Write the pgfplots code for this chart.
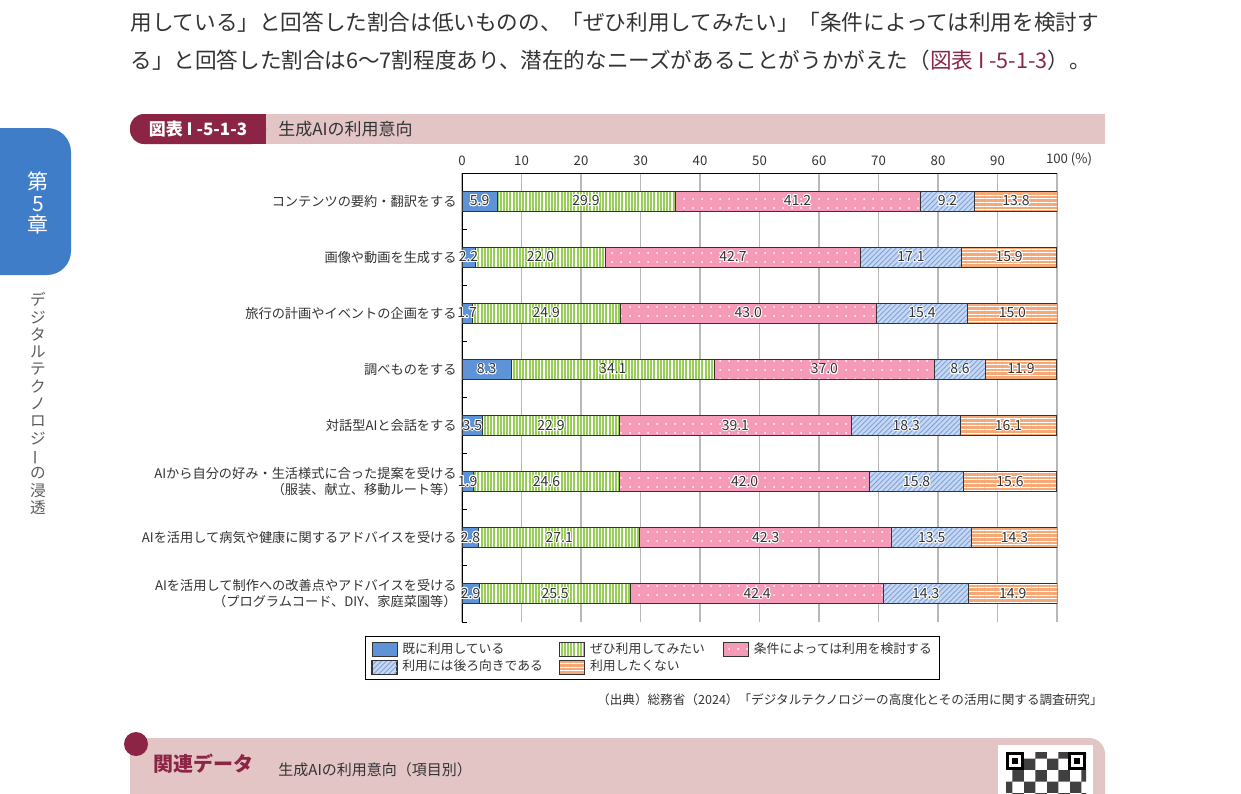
\documentclass[border=0pt]{standalone}
\usepackage{fontspec}
\setmainfont{Noto Sans CJK JP}
\usepackage{graphicx}
\usepackage{pgfplots}
\pgfplotsset{compat=1.18}
\usepackage{pgfplotstable}
\usetikzlibrary{patterns,patterns.meta}
\usepackage{contour}
\contourlength{0.45pt}
\contournumber{16}

\definecolor{txt}{HTML}{333333}
\definecolor{dred}{HTML}{8C2446}
\definecolor{lpink}{HTML}{E3C5C6}
\definecolor{tabblue}{HTML}{3F7DC9}
\definecolor{cblue}{HTML}{5F93D8}
\definecolor{cgreen}{HTML}{98CE58}
\definecolor{cpink}{HTML}{F59BB8}
\definecolor{chbg}{HTML}{C6D7F1}
\definecolor{chline}{HTML}{7FA3DC}
\definecolor{corange}{HTML}{F5A878}

\newcommand\fsCat{\fontsize{6.6pt}{8pt}\selectfont}
\newcommand\fsTick{\fontsize{6.6pt}{8pt}\selectfont}
\newcommand\fsVal{\fontsize{7pt}{8pt}\selectfont}
\newcommand\fsLeg{\fontsize{6.4pt}{8pt}\selectfont}
\newcommand\fsBody{\fontsize{10.8pt}{13pt}\selectfont}

\pgfplotstableread{
y a b c d e
7 5.9 29.9 41.2 9.2 13.8
6 2.2 22.0 42.7 17.1 15.9
5 1.7 24.9 43.0 15.4 15.0
4 8.3 34.1 37.0 8.6 11.9
3 3.5 22.9 39.1 18.3 16.1
2 1.9 24.6 42.0 15.8 15.6
1 2.8 27.1 42.3 13.5 14.3
0 2.9 25.5 42.4 14.3 14.9
}\datatable

\pgfplotsset{
  barlbl/.style={
    visualization depends on={\thisrow{#1} \as \val},
    nodes near coords={\contour{white}{\pgfmathprintnumber[fixed,fixed zerofill,precision=1]{\val}}},
    every node near coord/.append style={anchor=center, font=\fsVal, text=txt, inner sep=0pt}
  }
}

\begin{document}
\begin{tikzpicture}
\begin{scope}[x=0.5pt,y=-0.5pt]
\useasboundingbox (0,0) rectangle (1241,793);
\fill[white] (0,0) rectangle (1241,793);

% body text
\node[anchor=west, font=\fsBody, text=txt, inner sep=0] at (130,22) {用している」と回答した割合は低いものの、「ぜひ利用してみたい」「条件によっては利用を検討す};
\node[anchor=west, font=\fsBody, text=txt, inner sep=0] at (130,60) {る」と回答した割合は6～7割程度あり、潜在的なニーズがあることがうかがえた（\textcolor{dred}{図表 I -5-1-3}）。};

% title bar
\fill[lpink] (150,114) rectangle (1105,144);
\fill[dred, rounded corners=7pt] (130,114) rectangle (266,144);
\fill[dred] (200,114) rectangle (266,144);
\node[font=\fontsize{8.5pt}{10pt}\selectfont\bfseries, text=white, inner sep=0] at (198,129) {図表 I -5-1-3};
\node[anchor=west, font=\fontsize{8.5pt}{10pt}\selectfont, text=txt, inner sep=0] at (278,129) {生成AIの利用意向};

% chapter tab
\fill[tabblue, rounded corners=12pt] (-30,128) rectangle (71,275);
\node[align=center, font=\fontsize{10.5pt}{10.8pt}\selectfont, text=white, inner sep=0] at (38,203) {第\\5\\章};
\node[anchor=north, align=center, font=\fontsize{7.8pt}{8.65pt}\selectfont, text=txt!80, inner sep=0] at (38,292) {デ\\ジ\\タ\\ル\\テ\\ク\\ノ\\ロ\\ジ\\\rotatebox[origin=c]{90}{ー}\\の\\浸\\透};

% source
\node[anchor=east, font=\fontsize{6.3pt}{8pt}\selectfont, text=txt, inner sep=0] at (1103,700) {（出典）総務省（2024）「デジタルテクノロジーの高度化とその活用に関する調査研究」};

% related data box
\fill[lpink, rounded corners=8pt] (130,738) rectangle (1105,830);
\fill[dred] (136,744) circle (12);
\node[anchor=west, font=\fontsize{10pt}{12pt}\selectfont\bfseries, text=dred, inner sep=0] at (153,764) {関連データ};
\node[anchor=west, font=\fontsize{7.5pt}{9pt}\selectfont, text=txt, inner sep=0] at (278,770) {生成AIの利用意向（項目別）};
\fill[white] (998,745) rectangle (1093,800);
\fill[black!80, pattern=checkerboard, pattern color=black!75] (1006,752) rectangle (1086,800);
\foreach \qx in {1006,1068} {
  \fill[black] (\qx,752) rectangle ++(18,18);
  \fill[white] (\qx+3,755) rectangle ++(12,12);
  \fill[black] (\qx+6,758) rectangle ++(6,6);
}
\end{scope}

% chart
\begin{axis}[
  at={(231pt,-86.5pt)}, anchor=north west,
  scale only axis, width=297.5pt, height=224.5pt,
  xmin=0, xmax=100, ymin=-0.5, ymax=7.5,
  xbar stacked, bar width=10pt,
  /pgf/number format/assume math mode=true,
  separate axis lines, axis x line*=top, axis y line*=left,
  axis line style={line width=0.5pt, draw=black},
  xtick={0,10,...,100},
  xticklabels={0,10,20,30,40,50,60,70,80,90,100\rlap{ (\%)}},
  xticklabel style={font=\fsTick, text=txt},
  major tick length=0pt,
  xmajorgrids, grid style={line width=0.7pt, color=black!28},
  ytick={0,...,7},
  yticklabels={
    {AIを活用して制作への改善点やアドバイスを受ける\\（プログラムコード、DIY、家庭菜園等）},
    {AIを活用して病気や健康に関するアドバイスを受ける},
    {AIから自分の好み・生活様式に合った提案を受ける\\（服装、献立、移動ルート等）},
    {対話型AIと会話をする},
    {調べものをする},
    {旅行の計画やイベントの企画をする},
    {画像や動画を生成する},
    {コンテンツの要約・翻訳をする}},
  yticklabel style={font=\fsCat, text=txt, align=right, inner sep=2.5pt},
  minor ytick={-0.5,0.5,...,7.5},
  minor tick length=2.5pt, tick align=inside,
  tick style={black, line width=0.5pt},
  legend columns=3,
  legend cell align=left,
  legend style={at={(-0.163,-0.031)}, anchor=north west, draw=black, line width=0.5pt,
    font=\fsLeg, text=txt, inner xsep=3pt, inner ysep=2pt, row sep=0pt,
    nodes={inner sep=1pt},
    /tikz/every even column/.append style={column sep=0pt}},
  legend image code/.code={\draw[#1, line width=0.4pt] (0pt,-3.5pt) rectangle (12.5pt,3.5pt);},
]
\addplot[draw=txt, line width=0.5pt, fill=cblue, barlbl=a] table[x=a, y=y] {\datatable};
\addlegendentry{\hspace{1.5pt}\makebox[77.5pt][l]{既に利用している}}
\addplot[draw=txt, line width=0.5pt, preaction={fill=cgreen}, pattern={Lines[angle=90,distance=1.6pt,line width=0.55pt]}, pattern color=white, barlbl=b] table[x=b, y=y] {\datatable};
\addlegendentry{\hspace{1.5pt}\makebox[65.5pt][l]{ぜひ利用してみたい}}
\addplot[draw=txt, line width=0.5pt, preaction={fill=cpink}, pattern={Dots[distance=4.5pt,radius=0.5pt]}, pattern color=white, barlbl=c] table[x=c, y=y] {\datatable};
\addlegendentry{\hspace{1.5pt}条件によっては利用を検討する}
\addplot[draw=txt, line width=0.5pt, preaction={fill=chbg}, pattern={Lines[angle=45,distance=1.8pt,line width=0.45pt]}, pattern color=chline, barlbl=d] table[x=d, y=y] {\datatable};
\addlegendentry{\hspace{1.5pt}\makebox[77.5pt][l]{利用には後ろ向きである}}
\addplot[draw=txt, line width=0.5pt, preaction={fill=corange}, pattern={Lines[angle=0,distance=1.8pt,line width=0.5pt]}, pattern color=white, barlbl=e] table[x=e, y=y] {\datatable};
\addlegendentry{\hspace{1.5pt}\makebox[65.5pt][l]{利用したくない}}
\end{axis}
\end{tikzpicture}
\end{document}
